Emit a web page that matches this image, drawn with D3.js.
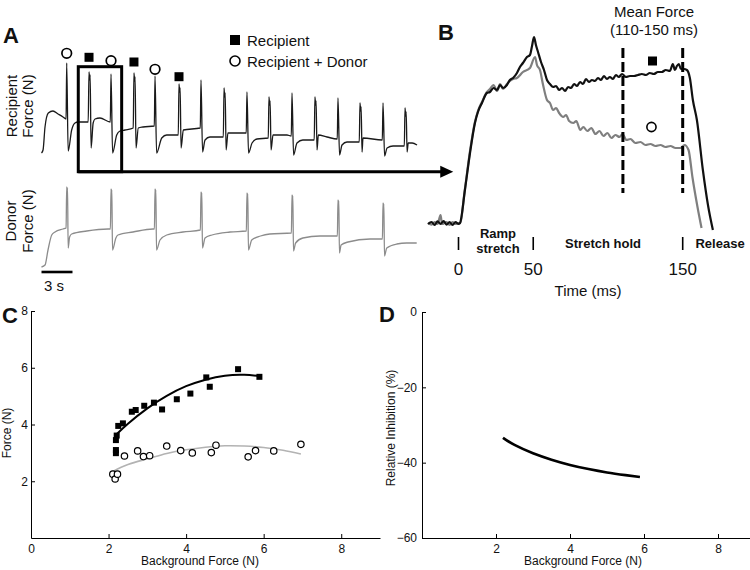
<!DOCTYPE html>
<html>
<head>
<meta charset="utf-8">
<script src="https://cdn.jsdelivr.net/npm/d3@7"></script>
<style>
  body { margin: 0; background: #fff; }
  text { font-family: "Liberation Sans", Arial, sans-serif; fill: #111; }
</style>
</head>
<body>
<svg width="750" height="570"></svg>
<script>
// ---- Panel A: raw traces, time in s, force in N (arbitrary offset) ----
const recipientTrace = [
  [0,0],[0.15,0.3],[0.34,2.6],[0.66,4.0],[1.11,4.2],[1.6,3.9],[2.08,3.6],[2.38,3.4],
  [2.44,9.0],[2.58,0.2],[2.92,2.3],[3.24,3.0],[3.53,3.1],[4.52,3.1],
  [4.60,8.1],[4.66,7.3],[4.71,7.8],[4.8,0.5],[5.0,3.0],[5.18,3.4],[5.66,3.5],[6.66,3.1],
  [6.73,7.9],[6.88,0],[7.28,1.8],[7.6,2.2],[8.08,2.3],[8.88,2.5],
  [8.95,8.0],[9.01,7.2],[9.06,7.6],[9.15,0.5],[9.37,2.5],[9.83,2.6],[10.92,2.7],
  [10.99,7.7],[11.14,0],[11.64,1.5],[12.12,1.8],[13.24,1.8],
  [13.31,6.9],[13.37,6.1],[13.42,6.5],[13.51,0.5],[13.73,2.3],[15.37,2.5],
  [15.44,7.3],[15.59,0.1],[15.83,1.3],[16.3,1.6],[17.6,1.6],
  [17.67,6.5],[17.73,5.6],[17.78,6.0],[17.87,0.3],[18.05,2.0],[19.82,2.0],
  [19.89,6.1],[20.04,0],[20.38,1.0],[20.86,1.4],[21.95,1.5],
  [22.02,5.6],[22.08,4.8],[22.13,5.2],[22.22,0.3],[22.41,1.8],[23.76,1.8],[24.18,1.7],
  [24.25,6.0],[24.4,-0.2],[24.73,1.0],[25.3,1.3],[26.4,1.3],
  [26.47,5.6],[26.53,4.8],[26.58,5.2],[26.67,0.3],[26.8,1.8],[27.64,1.6],[28.63,1.4],
  [28.70,5.5],[28.85,-0.2],[29.09,0.8],[29.57,1.1],[30.76,1.1],
  [30.83,5.0],[30.89,4.2],[30.94,4.6],[31.03,0.1],[31.12,1.5],[32.99,1.3],
  [33.06,5.0],[33.21,-0.3],[33.45,0.5],[34.03,0.7],[35.12,0.7],
  [35.19,4.5],[35.25,3.7],[35.3,4.1],[35.39,0.1],[35.5,1.0],[35.88,1.0],[36.35,0.8]
];
const donorTrace = [
  [0,0],[0.34,0.2],[0.63,1.7],[0.99,3.2],[1.31,3.5],[2.08,3.8],[2.38,3.9],
  [2.44,8.0],[2.48,7.6],[2.52,7.9],[2.58,1.9],[2.72,3.0],[2.92,3.3],[4.38,3.6],[6.44,3.8],[6.67,3.8],
  [6.73,7.8],[6.77,7.4],[6.81,7.7],[6.87,1.7],[7.2,2.9],[7.4,3.2],[8.86,3.5],[10.8,3.8],[10.93,3.8],
  [10.99,7.8],[11.03,7.4],[11.07,7.7],[11.13,1.7],[11.47,2.7],[12.12,3.2],[13.7,3.5],[15.38,3.7],
  [15.44,7.5],[15.48,7.1],[15.52,7.4],[15.58,1.9],[15.83,2.9],[16.5,3.2],[18.25,3.5],[19.83,3.6],
  [19.89,7.4],[19.93,7.0],[19.97,7.3],[20.03,1.7],[20.35,2.7],[21.2,3.1],[22.1,3.3],[24.19,3.4],
  [24.25,7.2],[24.29,6.8],[24.33,7.1],[24.39,1.6],[24.6,2.4],[25.3,2.9],[26.96,3.1],[28.64,3.1],
  [28.70,6.7],[28.74,6.3],[28.78,6.6],[28.84,1.4],[29.0,2.2],[29.67,2.5],[31.8,2.8],[33.0,2.8],
  [33.06,6.4],[33.1,6.0],[33.14,6.3],[33.2,1.1],[33.42,1.9],[34.39,2.3],[35.35,2.4],[36.32,2.4]
];
// condition markers over the first six stretches
const markerTimes = [2.44, 4.60, 6.73, 8.95, 10.99, 13.31];
const markerForce = [9.97, 9.57, 9.23, 9.1, 8.37, 7.63];
const markerType = ["donor", "rec", "donor", "rec", "donor", "rec"];
const zoomWindow = [3.56, 7.76];     // s, the stretches blown up in B
const zoomForce = [-1.87, 8.63];

// ---- Panel B: one stretch, time in ms ----
const recipientB = [
  [-20.4,-0.05],[-18,0.05],[-16,-0.1],[-14,0.08],[-12,-0.05],[-10,0.1],[-8,-0.08],[-6,0.05],[-4,-0.1],[-2,0.05],[0,-0.05],[1,0],
  [4.3,1.65],[7.7,3.5],[11,5.0],[13,5.55],[15.7,6.0],[19,6.5],[21,6.55],[23.4,6.75],[25.8,6.65],[27.8,6.9],
  [29.8,6.75],[32.4,6.9],[34.4,7.15],[36.5,7.25],[39.1,7.5],[41.1,7.8],[43.1,8.0],[45.8,8.3],[47.8,8.4],
  [49.2,8.85],[50.5,9.3],[51.8,8.9],[53.2,8.55],[55.2,8.05],[57.2,7.65],[59.2,7.15],[61.2,6.95],[63.3,6.8],
  [65.3,6.85],[67.3,6.65],[69.3,6.75],[71.3,6.6],[73.3,6.8],[75.3,6.75],[77.3,6.95],[79.3,6.85],[81.3,7.05],
  [83.3,6.95],[85.3,7.2],[87.3,7.05],[89.3,7.15],[91.3,7.1],[93.3,7.25],[95.3,7.15],[97.3,7.35],[99.3,7.2],
  [101.3,7.3],[103.3,7.2],[105.3,7.4],[107.3,7.3],[109.4,7.45],[112,7.3],[114.7,7.35],[117.4,7.35],[120,7.4],
  [122.7,7.45],[125.4,7.4],[128,7.5],[130.7,7.45],[133.4,7.55],[136,7.55],[138.7,7.65],[141.4,7.6],[143.4,7.95],
  [144.8,7.65],[146.1,7.85],[147.4,7.95],[148.8,7.7],[150.8,7.7],[152.8,7.65],[154.8,7.25],[156.8,6.15],
  [159.5,5.15],[163.5,2.65],[166.9,0.9],[170.2,-0.35]
];
const donorB = [
  [-20.4,0],[-18,-0.08],[-16,0.05],[-14,-0.05],[-12,0.4],[-11,-0.05],[-8,0.05],[-6,-0.1],[-4,0.05],[-2,-0.05],[0,0],[1,0],
  [4.3,1.7],[7.7,3.6],[11,5.05],[13,5.6],[15.7,6.05],[19,6.55],[21,6.7],[23.4,6.9],[25.8,6.6],[27.8,6.95],
  [29.8,6.7],[32.4,6.95],[34.4,7.1],[36.5,7.2],[39.1,7.25],[43.1,7.55],[47.8,7.75],[51.2,8.3],[52.5,7.9],
  [54.5,7.65],[56.6,6.9],[59.2,6.15],[61.2,6.0],[63.3,5.65],[65.3,5.75],[67.3,5.5],[70,5.3],[72,5.4],[74,5.1],
  [76.8,5.0],[78.8,5.1],[81.5,4.65],[83.5,4.8],[86.2,4.6],[88.9,4.75],[91.6,4.45],[94.3,4.6],[97,4.35],
  [99.6,4.5],[102.3,4.25],[105,4.4],[107.7,4.3],[109.7,4.45],[112.4,4.15],[115,4.2],[118.4,4.0],[121.7,4.05],
  [125.1,3.9],[128.4,3.95],[131.8,3.85],[135.1,3.9],[138.5,3.8],[141.8,3.85],[145.2,3.75],[148.5,3.75],
  [151.2,3.9],[153.9,3.65],[156.5,2.3],[159.9,0.8],[162.6,-0.25]
];
const meanWindow = [110, 150];
const timeTicks = [0, 50, 150];
const phaseLabels = [["Ramp", "stretch"], ["Stretch hold"], ["Release"]];
const phaseCenters = [26.4, 96.7, 175];
const markerB = { rec: [129.8, 8.1], donor: [129.1, 4.8] };

// ---- Panel C: mean force vs background force ----
const recX = [2.19,2.19,2.19,2.21,2.25,2.37,2.60,2.70,2.92,3.17,3.38,3.76,4.11,4.52,4.61,5.34,5.89];
const recY = [2.99,3.10,3.45,3.61,3.95,4.04,4.45,4.51,4.66,4.77,4.53,4.89,5.09,5.66,5.33,5.95,5.68];
const donX = [2.11,2.17,2.23,2.41,2.75,2.90,3.06,3.50,3.86,4.16,4.65,4.77,5.60,5.79,6.26,6.96];
const donY = [2.25,2.08,2.25,2.89,3.07,2.87,2.90,3.24,3.08,3.00,3.01,3.27,2.86,3.08,3.07,3.30];
const recFitX = [2.2,2.5,3,3.5,4,4.5,5,5.5,5.9];
const recFitY = [3.65,4.03,4.57,5.01,5.35,5.58,5.72,5.75,5.70];
const donFitX = [2.1,2.5,3,3.5,4,4.5,5,5.5,6,6.5,6.96];
const donFitY = [2.34,2.59,2.79,2.98,3.11,3.2,3.25,3.24,3.19,3.09,2.96];

// ---- Panel D: relative inhibition ----
const inhibX = [2.19,2.5,3,3.5,4,4.5,5,5.5,5.89];
const inhibY = [-33.4,-35.3,-37.5,-39.2,-40.6,-41.7,-42.6,-43.3,-43.8];

const svg = d3.select("svg");
const traceLine = (x, y) => d3.line().x(d => x(d[0])).y(d => y(d[1])).curve(d3.curveMonotoneX);

// ================= Panel A =================
const xA = d3.scaleLinear().domain([0, 36.3]).range([41.5, 416.5]);
const yRec = d3.scaleLinear().domain([0, 9]).range([153, 63]);
const yDon = d3.scaleLinear().domain([0, 8.1]).range([267, 186]);

svg.append("text").attr("x", 3).attr("y", 43).attr("font-size", 22).attr("font-weight", "bold").text("A");

svg.append("path").datum(recipientTrace)
  .attr("d", traceLine(xA, yRec)).attr("fill", "none").attr("stroke", "#1a1a1a").attr("stroke-width", 1.3);
svg.append("path").datum(donorTrace)
  .attr("d", traceLine(xA, yDon)).attr("fill", "none").attr("stroke", "#8c8c8c").attr("stroke-width", 1.3);

markerTimes.forEach((t, i) => {
  const cx = xA(t), cy = yRec(markerForce[i]);
  if (markerType[i] === "rec") {
    svg.append("rect").attr("x", cx - 4.5).attr("y", cy - 4.5).attr("width", 9).attr("height", 9).attr("fill", "#000");
  } else {
    svg.append("circle").attr("cx", cx).attr("cy", cy).attr("r", 4.8)
      .attr("fill", "#fff").attr("stroke", "#000").attr("stroke-width", 1.7);
  }
});

// legend
svg.append("rect").attr("x", 230).attr("y", 35).attr("width", 10).attr("height", 10).attr("fill", "#000");
svg.append("text").attr("x", 247).attr("y", 45.5).attr("font-size", 15).text("Recipient");
svg.append("circle").attr("cx", 235).attr("cy", 61).attr("r", 5)
  .attr("fill", "#fff").attr("stroke", "#000").attr("stroke-width", 1.6);
svg.append("text").attr("x", 247).attr("y", 66.5).attr("font-size", 15).text("Recipient + Donor");

// y labels
function twoLineLabel(lines, xs, cy) {
  lines.forEach((s, i) => {
    svg.append("text").attr("transform", `translate(${xs[i]},${cy}) rotate(-90)`)
      .attr("text-anchor", "middle").attr("font-size", 15).text(s);
  });
}
twoLineLabel(["Recipient", "Force (N)"], [17, 33], 106);
twoLineLabel(["Donor", "Force (N)"], [16, 33], 221);

// scale bar
svg.append("line").attr("x1", xA(0)).attr("x2", xA(3)).attr("y1", 272).attr("y2", 272)
  .attr("stroke", "#000").attr("stroke-width", 2.6);
svg.append("text").attr("x", xA(1.5) - 3).attr("y", 291).attr("text-anchor", "middle").attr("font-size", 15).text("3 s");

// zoom box and arrow into B
const boxX0 = xA(zoomWindow[0]), boxX1 = xA(zoomWindow[1]);
const boxY0 = yRec(zoomForce[1]), boxY1 = yRec(zoomForce[0]);
svg.append("rect").attr("x", boxX0).attr("y", boxY0).attr("width", boxX1 - boxX0).attr("height", boxY1 - boxY0)
  .attr("fill", "none").attr("stroke", "#000").attr("stroke-width", 3);

// ================= Panel B =================
const xB = d3.scaleLinear().domain([0, 150]).range([458.5, 682.7]);
const yB = d3.scaleLinear().domain([0, 9.3]).range([223, 37]);

const arrowTip = xB(-3.5);
svg.append("line").attr("x1", boxX0).attr("x2", arrowTip - 6).attr("y1", boxY1).attr("y2", boxY1)
  .attr("stroke", "#000").attr("stroke-width", 3);
svg.append("path")
  .attr("d", `M${arrowTip},${boxY1} L${arrowTip - 13},${boxY1 - 6} L${arrowTip - 13},${boxY1 + 6} Z`)
  .attr("fill", "#000");

svg.append("text").attr("x", 438).attr("y", 40).attr("font-size", 22).attr("font-weight", "bold").text("B");

svg.append("path").datum(donorB)
  .attr("d", traceLine(xB, yB)).attr("fill", "none").attr("stroke", "#7f7f7f").attr("stroke-width", 2.2);
svg.append("path").datum(recipientB)
  .attr("d", traceLine(xB, yB)).attr("fill", "none").attr("stroke", "#111").attr("stroke-width", 2.2);

meanWindow.forEach(t => {
  svg.append("line").attr("x1", xB(t)).attr("x2", xB(t)).attr("y1", yB(8.75)).attr("y2", yB(1.5))
    .attr("stroke", "#000").attr("stroke-width", 3).attr("stroke-dasharray", "10,4");
});
svg.append("text").attr("x", 654).attr("y", 17).attr("text-anchor", "middle").attr("font-size", 15).text("Mean Force");
svg.append("text").attr("x", 654).attr("y", 35).attr("text-anchor", "middle").attr("font-size", 15).text("(110-150 ms)");

svg.append("rect").attr("x", xB(markerB.rec[0]) - 4.5).attr("y", yB(markerB.rec[1]) - 4.5)
  .attr("width", 9).attr("height", 9).attr("fill", "#000");
svg.append("circle").attr("cx", xB(markerB.donor[0])).attr("cy", yB(markerB.donor[1])).attr("r", 4.6)
  .attr("fill", "#fff").attr("stroke", "#000").attr("stroke-width", 1.6);

timeTicks.forEach(t => {
  svg.append("line").attr("x1", xB(t)).attr("x2", xB(t)).attr("y1", 237).attr("y2", 250)
    .attr("stroke", "#000").attr("stroke-width", 1.6);
  svg.append("text").attr("x", xB(t)).attr("y", 275).attr("text-anchor", "middle").attr("font-size", 17).text(t);
});
phaseLabels.forEach((lines, i) => {
  const y0 = lines.length === 2 ? 238 : 248;
  lines.forEach((s, j) => {
    svg.append("text").attr("x", xB(phaseCenters[i])).attr("y", y0 + j * 15)
      .attr("text-anchor", "middle").attr("font-size", 13).attr("font-weight", "bold").text(s);
  });
});
svg.append("text").attr("x", 588).attr("y", 296).attr("text-anchor", "middle").attr("font-size", 15).text("Time (ms)");

// ================= Panel C =================
const xC = d3.scaleLinear().domain([0, 9]).range([31, 380]);
const yC = d3.scaleLinear().domain([0, 8]).range([538, 311]);

function styleAxis(g) {
  g.select(".domain").attr("stroke", "#000");
  g.selectAll(".tick line").attr("stroke", "#000");
  g.selectAll(".tick text").attr("font-size", 12).attr("fill", "#222")
    .attr("font-family", "'Liberation Sans', Arial, sans-serif");
}

svg.append("g").attr("transform", "translate(0,538)")
  .call(d3.axisBottom(xC).tickValues([0, 2, 4, 6, 8]).tickSizeInner(-4).tickSizeOuter(0).tickPadding(6))
  .call(styleAxis);
svg.append("g").attr("transform", "translate(31,0)")
  .call(d3.axisLeft(yC).tickValues([2, 4, 6, 8]).tickSizeInner(-4).tickSizeOuter(0).tickPadding(3))
  .call(styleAxis);

svg.append("text").attr("x", 2).attr("y", 323).attr("font-size", 22).attr("font-weight", "bold").text("C");

const fitLine = (x, y) => d3.line().x(d => x(d[0])).y(d => y(d[1])).curve(d3.curveNatural);
svg.append("path").datum(donFitX.map((v, i) => [v, donFitY[i]]))
  .attr("d", fitLine(xC, yC)).attr("fill", "none").attr("stroke", "#b3b3b3").attr("stroke-width", 1.6);
svg.append("path").datum(recFitX.map((v, i) => [v, recFitY[i]]))
  .attr("d", fitLine(xC, yC)).attr("fill", "none").attr("stroke", "#000").attr("stroke-width", 2);

svg.selectAll(".recPt").data(recX.map((v, i) => [v, recY[i]])).enter().append("rect")
  .attr("x", d => xC(d[0]) - 3).attr("y", d => yC(d[1]) - 3).attr("width", 6).attr("height", 6).attr("fill", "#000");
svg.selectAll(".donPt").data(donX.map((v, i) => [v, donY[i]])).enter().append("circle")
  .attr("cx", d => xC(d[0])).attr("cy", d => yC(d[1])).attr("r", 3.2)
  .attr("fill", "#fff").attr("stroke", "#000").attr("stroke-width", 1.2);

svg.append("text").attr("x", 200).attr("y", 565).attr("text-anchor", "middle").attr("font-size", 12).text("Background Force (N)");
svg.append("text").attr("transform", "translate(11,433) rotate(-90)").attr("text-anchor", "middle")
  .attr("font-size", 12).text("Force (N)");

// ================= Panel D =================
const xD = d3.scaleLinear().domain([0, 9]).range([422, 755]);
const yD = d3.scaleLinear().domain([-60, 0]).range([538, 312]);

svg.append("g").attr("transform", "translate(0,538)")
  .call(d3.axisBottom(xD).tickValues([2, 4, 6, 8]).tickSizeInner(-4).tickSizeOuter(0).tickPadding(6))
  .call(styleAxis);
svg.append("g").attr("transform", "translate(422,0)")
  .call(d3.axisLeft(yD).tickValues([-60, -40, -20, 0]).tickSizeInner(-4).tickSizeOuter(0).tickPadding(5))
  .call(styleAxis);

svg.append("text").attr("x", 379).attr("y", 322).attr("font-size", 22).attr("font-weight", "bold").text("D");

svg.append("path").datum(inhibX.map((v, i) => [v, inhibY[i]]))
  .attr("d", fitLine(xD, yD)).attr("fill", "none").attr("stroke", "#000").attr("stroke-width", 2.6);

svg.append("text").attr("x", 583).attr("y", 565).attr("text-anchor", "middle").attr("font-size", 12).text("Background Force (N)");
svg.append("text").attr("transform", "translate(395,428) rotate(-90)").attr("text-anchor", "middle")
  .attr("font-size", 12).text("Relative Inhibition (%)");
</script>
</body>
</html>
